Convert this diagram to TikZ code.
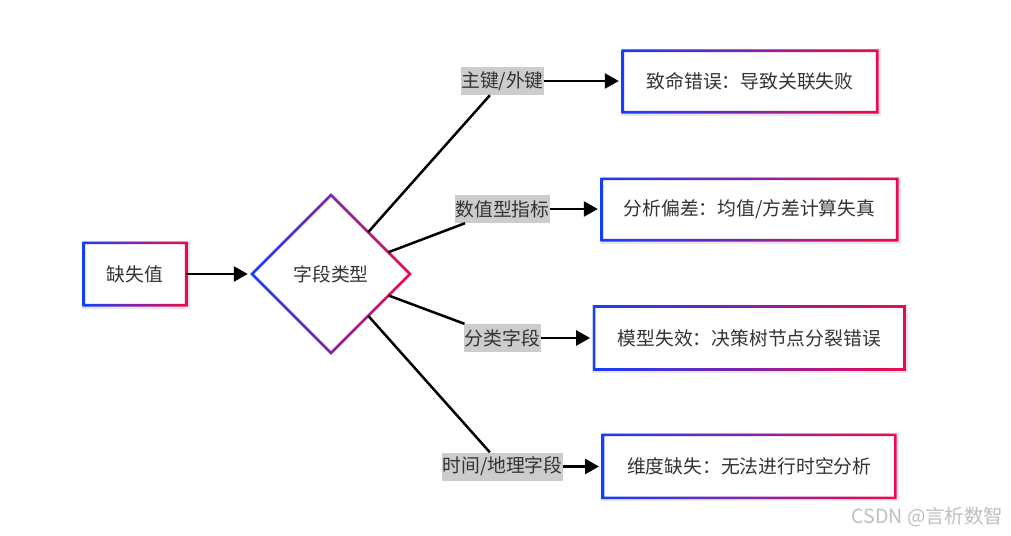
\documentclass[tikz,border=0pt]{standalone}
\usepackage{fontspec}
\setmainfont{Noto Sans CJK SC}
\usetikzlibrary{shapes.geometric,arrows.meta,calc}
\definecolor{gbl}{RGB}{20,62,255}
\definecolor{grd}{RGB}{240,8,78}
\definecolor{txt}{RGB}{51,51,51}
\definecolor{lblbg}{RGB}{204,204,204}
\tikzset{
  box/.style={rectangle, inner sep=0pt, text=txt, font=\fontsize{18.8pt}{22pt}\selectfont},
  lbl/.style={rectangle, fill=lblbg, inner xsep=0.5pt, inner ysep=0pt, minimum height=28pt, text=txt, font=\fontsize{18.8pt}{22pt}\selectfont},
  dia/.style={diamond, inner sep=0pt, minimum width=158pt, minimum height=158pt, text=txt, font=\fontsize{18.8pt}{22pt}\selectfont},
  gradring/.style={even odd rule, left color=gbl, right color=grd, middle color={rgb,255:red,130;green,35;blue,167}},
  conn/.style={draw=black, line width=2.5pt},
  arr/.style={draw=black, line width=2.5pt, -{Triangle[length=14pt,width=15pt]}, shorten >=4pt},
  halo/.style={draw=black!9, line width=5pt},
  wm/.style={text=black!25, font=\fontsize{19.5pt}{22pt}\selectfont, anchor=east}
}
\newcommand\gradrect[1]{%
  \draw[halo] ([shift={(0.8pt,-0.8pt)}]#1.south west) rectangle ([shift={(0.8pt,-0.8pt)}]#1.north east);
  \fill[white] (#1.south west) rectangle (#1.north east);
  \shade[gradring] ([shift={(-1.3pt,-1.3pt)}]#1.south west) rectangle ([shift={(1.3pt,1.3pt)}]#1.north east)
                   ([shift={(1.3pt,1.3pt)}]#1.south west) rectangle ([shift={(-1.3pt,-1.3pt)}]#1.north east);}
\newcommand\graddia[1]{%
  \shade[gradring] ([shift={(-80.8pt,0pt)}]#1.center) -- ([shift={(0pt,80.8pt)}]#1.center) -- ([shift={(80.8pt,0pt)}]#1.center) -- ([shift={(0pt,-80.8pt)}]#1.center) -- cycle
                   ([shift={(-77.2pt,0pt)}]#1.center) -- ([shift={(0pt,77.2pt)}]#1.center) -- ([shift={(77.2pt,0pt)}]#1.center) -- ([shift={(0pt,-77.2pt)}]#1.center) -- cycle;}
\begin{document}
\begin{tikzpicture}[x=1pt,y=-1pt]
\useasboundingbox[fill=white] (0,0) rectangle (1011,535);
% boxes
\node[box, minimum width=102pt, minimum height=62pt] (a) at (135,274) {};
\node[dia] (d) at (331,274) {};
\node[box, minimum width=254pt, minimum height=61pt] (b1) at (750,81.5) {};
\node[box, minimum width=295pt, minimum height=61pt] (b2) at (749.5,209.5) {};
\node[box, minimum width=310pt, minimum height=62.6pt] (b3) at (749.3,338) {};
\node[box, minimum width=292pt, minimum height=62.6pt] (b4) at (749.2,466.4) {};
\gradrect{a}
\gradrect{b1}
\gradrect{b2}
\gradrect{b3}
\gradrect{b4}
\graddia{d}
\node[box] (ta) at (a) {缺失值};
\node[box] (td) at (d) {字段类型};
\node[box] (t1) at (b1) {致命错误：导致关联失败};
\node[box] (t2) at (b2) {分析偏差：均值/方差计算失真};
\node[box] (t3) at (b3) {模型失效：决策树节点分裂错误};
\node[box] (t4) at (b4) {维度缺失：无法进行时空分析};
% labels
\node[lbl] (l1) at (502.5,81) {主键/外键};
\node[lbl] (l2) at (502.5,209) {数值型指标};
\node[lbl] (l3) at (502.5,338) {分类字段};
\node[lbl] (l4) at (502.5,466.5) {时间/地理字段};
% connectors
\draw[arr] (a.east) -- (d.west);
\draw[conn] (d) -- (l1);
\draw[conn] (d) -- (l2);
\draw[conn] (d) -- (l3);
\draw[conn] (d) -- (l4);
\draw[arr] (l1.east) -- (b1.west |- l1.east);
\draw[arr] (l2.east) -- (b2.west |- l2.east);
\draw[arr] (l3.east) -- (b3.west |- l3.east);
\draw[arr] (l4.east) -- (b4.west |- l4.east);
% watermark
\node[wm] (wmk) at (1007,517) {CSDN @言析数智};
\end{tikzpicture}
\end{document}
